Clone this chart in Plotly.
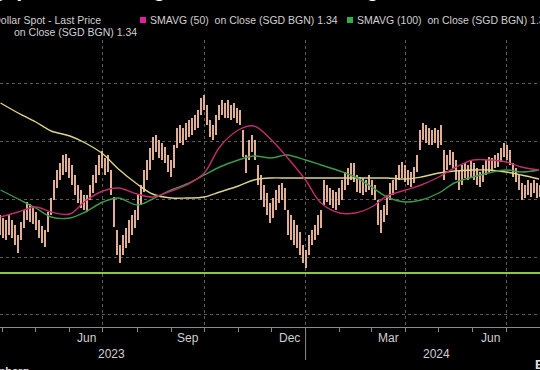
import plotly.graph_objects as go
import pandas as pd

# ---------------- data ----------------
bar_high = [
    1.3340, 1.3328, 1.3320, 1.3340, 1.3320, 1.3300, 1.3260, 1.3312, 1.3360, 1.3392,
    1.3384, 1.3372, 1.3352, 1.3320, 1.3296, 1.3280, 1.3352, 1.3408, 1.3480, 1.3520,
    1.3548, 1.3580, 1.3584, 1.3568, 1.3540, 1.3500, 1.3460, 1.3440, 1.3420, 1.3420,
    1.3460, 1.3500, 1.3540, 1.3580, 1.3596, 1.3568, 1.3580, 1.3520, 1.3412, 1.3280,
    1.3220, 1.3260, 1.3288, 1.3320, 1.3340, 1.3360, 1.3420, 1.3460, 1.3520, 1.3560,
    1.3608, 1.3652, 1.3660, 1.3640, 1.3628, 1.3612, 1.3580, 1.3560, 1.3620, 1.3688,
    1.3700, 1.3688, 1.3708, 1.3720, 1.3728, 1.3740, 1.3760, 1.3808, 1.3820, 1.3780,
    1.3720, 1.3700, 1.3740, 1.3780, 1.3800, 1.3788, 1.3800, 1.3780, 1.3788, 1.3768,
    1.3760, 1.3680, 1.3580, 1.3640, 1.3660, 1.3640, 1.3540, 1.3500, 1.3460, 1.3428,
    1.3388, 1.3408, 1.3440, 1.3460, 1.3468, 1.3448, 1.3360, 1.3340, 1.3320, 1.3300,
    1.3272, 1.3220, 1.3200, 1.3260, 1.3280, 1.3300, 1.3340, 1.3360, 1.3480, 1.3460,
    1.3448, 1.3440, 1.3432, 1.3448, 1.3480, 1.3512, 1.3528, 1.3548, 1.3548, 1.3500,
    1.3492, 1.3488, 1.3480, 1.3500, 1.3480, 1.3460, 1.3400, 1.3360, 1.3380, 1.3420,
    1.3468, 1.3480, 1.3500, 1.3540, 1.3552, 1.3540, 1.3520, 1.3512, 1.3532, 1.3580,
    1.3680, 1.3708, 1.3700, 1.3688, 1.3680, 1.3688, 1.3680, 1.3700, 1.3600, 1.3580,
    1.3600, 1.3592, 1.3560, 1.3520, 1.3540, 1.3548, 1.3540, 1.3560, 1.3548, 1.3528,
    1.3512, 1.3540, 1.3560, 1.3572, 1.3568, 1.3580, 1.3588, 1.3608, 1.3628, 1.3620,
    1.3600, 1.3548, 1.3528, 1.3500, 1.3468, 1.3460, 1.3480, 1.3468, 1.3480, 1.3468,
    1.3460,
]
bar_low = [
    1.3260, 1.3248, 1.3240, 1.3260, 1.3248, 1.3220, 1.3188, 1.3240, 1.3288, 1.3320,
    1.3312, 1.3304, 1.3280, 1.3248, 1.3228, 1.3212, 1.3272, 1.3340, 1.3400, 1.3448,
    1.3480, 1.3500, 1.3512, 1.3488, 1.3460, 1.3420, 1.3388, 1.3368, 1.3360, 1.3352,
    1.3400, 1.3428, 1.3468, 1.3500, 1.3528, 1.3500, 1.3512, 1.3420, 1.3292, 1.3180,
    1.3148, 1.3180, 1.3208, 1.3228, 1.3260, 1.3288, 1.3320, 1.3380, 1.3432, 1.3480,
    1.3520, 1.3560, 1.3592, 1.3568, 1.3560, 1.3548, 1.3512, 1.3492, 1.3528, 1.3608,
    1.3628, 1.3620, 1.3640, 1.3652, 1.3660, 1.3680, 1.3688, 1.3740, 1.3760, 1.3700,
    1.3652, 1.3640, 1.3660, 1.3720, 1.3740, 1.3728, 1.3728, 1.3720, 1.3728, 1.3708,
    1.3700, 1.3572, 1.3508, 1.3560, 1.3592, 1.3560, 1.3460, 1.3400, 1.3372, 1.3340,
    1.3308, 1.3328, 1.3360, 1.3388, 1.3400, 1.3360, 1.3260, 1.3240, 1.3220, 1.3208,
    1.3180, 1.3148, 1.3128, 1.3180, 1.3220, 1.3240, 1.3260, 1.3288, 1.3380, 1.3392,
    1.3380, 1.3368, 1.3360, 1.3380, 1.3400, 1.3440, 1.3460, 1.3480, 1.3472, 1.3432,
    1.3428, 1.3420, 1.3432, 1.3440, 1.3420, 1.3400, 1.3300, 1.3268, 1.3312, 1.3340,
    1.3400, 1.3420, 1.3440, 1.3480, 1.3488, 1.3472, 1.3460, 1.3452, 1.3468, 1.3512,
    1.3600, 1.3640, 1.3628, 1.3620, 1.3620, 1.3628, 1.3608, 1.3620, 1.3480, 1.3520,
    1.3540, 1.3528, 1.3480, 1.3440, 1.3460, 1.3488, 1.3480, 1.3488, 1.3480, 1.3460,
    1.3452, 1.3472, 1.3500, 1.3512, 1.3520, 1.3528, 1.3532, 1.3552, 1.3572, 1.3560,
    1.3540, 1.3492, 1.3472, 1.3440, 1.3400, 1.3408, 1.3420, 1.3412, 1.3428, 1.3408,
    1.3412,
]
bar_start = "2023-03-29 12:00"
bar_end = "2024-07-31 21:00"

ma_dates = [
    "2023-03-30", "2023-04-15", "2023-05-01", "2023-05-15", "2023-06-01", "2023-06-15",
    "2023-07-01", "2023-07-15", "2023-08-01", "2023-08-15", "2023-09-01", "2023-09-15",
    "2023-10-01", "2023-10-15", "2023-11-01", "2023-11-15", "2023-12-01", "2023-12-15",
    "2024-01-01", "2024-01-15", "2024-02-01", "2024-02-15", "2024-03-01", "2024-03-15",
    "2024-04-01", "2024-04-15", "2024-05-01", "2024-05-15", "2024-06-01", "2024-06-15",
    "2024-07-01", "2024-07-15", "2024-07-31",
]
sma50 = [
    1.3332, 1.3352, 1.3372, 1.3352, 1.3344, 1.3396, 1.3436, 1.3448, 1.3424, 1.3412,
    1.3436, 1.3460, 1.3508, 1.3612, 1.3680, 1.3696, 1.3640, 1.3572, 1.3480, 1.3388,
    1.3348, 1.3348, 1.3372, 1.3416, 1.3440, 1.3460, 1.3492, 1.3528, 1.3560, 1.3560,
    1.3552, 1.3532, 1.3520,
]
sma100 = [
    1.3440, 1.3404, 1.3368, 1.3332, 1.3328, 1.3352, 1.3392, 1.3408, 1.3380, 1.3404,
    1.3440, 1.3464, 1.3500, 1.3532, 1.3560, 1.3576, 1.3568, 1.3580, 1.3560, 1.3540,
    1.3516, 1.3492, 1.3452, 1.3412, 1.3392, 1.3400, 1.3428, 1.3468, 1.3492, 1.3508,
    1.3520, 1.3512, 1.3520,
]
sma200 = [
    1.3788, 1.3748, 1.3712, 1.3676, 1.3656, 1.3628, 1.3584, 1.3524, 1.3464, 1.3424,
    1.3408, 1.3408, 1.3412, 1.3432, 1.3456, 1.3480, 1.3488, 1.3488, 1.3488, 1.3488,
    1.3488, 1.3488, 1.3488, 1.3488, 1.3484, 1.3492, 1.3508, 1.3516, 1.3520, 1.3520,
    1.3512, 1.3500, 1.3484,
]
level_line = 1.3108

grid_dates = ["2023-07-01", "2023-10-01", "2024-01-01", "2024-04-01", "2024-07-01"]
y_grid = [1.2944, 1.3172, 1.3404, 1.3636, 1.3868]
month_labels = ["Jun", "Sep", "Dec", "Mar", "Jun"]
month_label_dates = ["2023-06-16", "2023-09-16", "2023-12-17", "2024-03-16", "2024-06-17"]
year_labels = ["2023", "2024"]
year_label_dates = ["2023-07-09", "2024-04-29"]
year_split = "2024-01-01"

x_range = ["2023-03-29 12:00", "2024-07-31 21:00"]
y_range = [1.2892, 1.4040]

title_text = "Singapore Dollar Edges Closer to Its Strongest Level in a Decade"
legend_price = "US Dollar-Singapore Dollar Spot - Last Price"
legend_50 = "SMAVG (50)&nbsp; on Close (SGD BGN) 1.34"
legend_100 = "SMAVG (100)&nbsp; on Close (SGD BGN) 1.34"
legend_200_wrap = "on Close (SGD BGN) 1.34"

# ---------------- styles ----------------
BAR_COLOR = "#e0ae93"
C50 = "#c22c6c"
C100 = "#3c9a48"
C200 = "#dcd38e"
LEVEL = "#8dc63f"
GRID = "#5c5c5c"
TXT = "#d0d0d0"
FONT = "Liberation Sans"

W, H = 540, 370
M_T, M_B = 40, 43
PH = H - M_T - M_B


def py(pix):
    """pixel row -> paper y"""
    return (H - M_B - pix) / PH


def px(pix):
    return pix / W


bar_dates = pd.date_range(bar_start, bar_end, periods=len(bar_high))
heights = [h - l for h, l in zip(bar_high, bar_low)]

fig = go.Figure()
fig.add_trace(go.Bar(
    x=bar_dates, y=heights, base=bar_low,
    width=2.0 * 86400000,
    marker=dict(color=BAR_COLOR, line=dict(width=0)),
    showlegend=False, hoverinfo="skip",
))
for vals, col in [(sma200, C200), (sma100, C100), (sma50, C50)]:
    fig.add_trace(go.Scatter(
        x=ma_dates, y=vals, mode="lines",
        line=dict(color=col, width=1.4, shape="spline", smoothing=1.0),
        showlegend=False, hoverinfo="skip",
    ))

fig.add_hline(y=level_line, line=dict(color=LEVEL, width=2))

# year separator
fig.add_shape(type="line", xref="x", yref="paper", x0=year_split, x1=year_split,
              y0=py(331), y1=py(360), line=dict(color="#8a8a8a", width=1))

# legend colour squares
for x0, col in [(140, "#e0209a"), (347, "#2cb34a")]:
    fig.add_shape(type="rect", xref="paper", yref="paper",
                  x0=px(x0), x1=px(x0 + 6), y0=py(23), y1=py(17),
                  line=dict(width=0), fillcolor=col)

ann = []
for lab, d in zip(month_labels, month_label_dates):
    ann.append(dict(x=d, xref="x", y=py(338), yref="paper", text=lab, showarrow=False,
                    font=dict(family=FONT, size=12, color=TXT), xanchor="center", yanchor="middle"))
for lab, d in zip(year_labels, year_label_dates):
    ann.append(dict(x=d, xref="x", y=py(354), yref="paper", text=lab, showarrow=False,
                    font=dict(family=FONT, size=12, color=TXT), xanchor="center", yanchor="middle"))

# legend rows
LEG = dict(family=FONT, size=10.5, color=TXT)
ann.append(dict(x=px(103), xref="paper", y=py(20), yref="paper", text=legend_price, showarrow=False,
                font=LEG, xanchor="right", yanchor="middle"))
ann.append(dict(x=px(148), xref="paper", y=py(20), yref="paper", text=legend_50, showarrow=False,
                font=LEG, xanchor="left", yanchor="middle"))
ann.append(dict(x=px(355), xref="paper", y=py(20), yref="paper", text=legend_100, showarrow=False,
                font=LEG, xanchor="left", yanchor="middle"))
ann.append(dict(x=px(12), xref="paper", y=py(32), yref="paper", text=legend_200_wrap,
                showarrow=False, font=LEG, xanchor="left", yanchor="middle"))
# headline (cut off at top)
ann.append(dict(x=px(-40), xref="paper", y=py(3), yref="paper", text=f"<b>{title_text}</b>",
                showarrow=False, font=dict(family=FONT, size=20, color="#ffffff"),
                xanchor="left", yanchor="bottom"))
# source (cut off)
ann.append(dict(x=px(31), xref="paper", y=py(371), yref="paper", text="<b>Bloomberg</b>",
                showarrow=False, font=dict(family=FONT, size=11, color="#e0e0e0"),
                xanchor="right", yanchor="middle"))
ann.append(dict(x=px(533), xref="paper", y=py(364), yref="paper", text="<b>B</b>",
                showarrow=False, font=dict(family=FONT, size=13, color="#e0e0e0"),
                xanchor="left", yanchor="middle"))

fig.update_layout(
    width=W, height=H,
    margin=dict(l=0, r=0, t=M_T, b=M_B, pad=0),
    paper_bgcolor="#000000", plot_bgcolor="#000000",
    bargap=0, showlegend=False,
    annotations=ann,
    xaxis=dict(
        type="date", range=x_range, tickvals=grid_dates, showticklabels=False,
        showgrid=True, gridcolor=GRID, griddash="dot", gridwidth=1,
        ticks="outside", ticklen=4, tickcolor="#8a8a8a",
        minor=dict(ticks="outside", ticklen=4, tickcolor="#8a8a8a", dtick="M1",
                   tick0="2023-04-01", showgrid=False),
        showline=True, linecolor="#8a8a8a", linewidth=1, zeroline=False, fixedrange=True,
    ),
    yaxis=dict(
        range=y_range, tickvals=y_grid, showticklabels=False,
        showgrid=True, gridcolor=GRID, griddash="dot", gridwidth=1,
        zeroline=False, showline=False, fixedrange=True,
    ),
)

fig.write_html(
    "out.html",
    config={"displayModeBar": False, "staticPlot": True},
    post_script="document.body.style.margin='0';document.body.style.padding='0';"
                "document.body.style.background='#000';",
)
